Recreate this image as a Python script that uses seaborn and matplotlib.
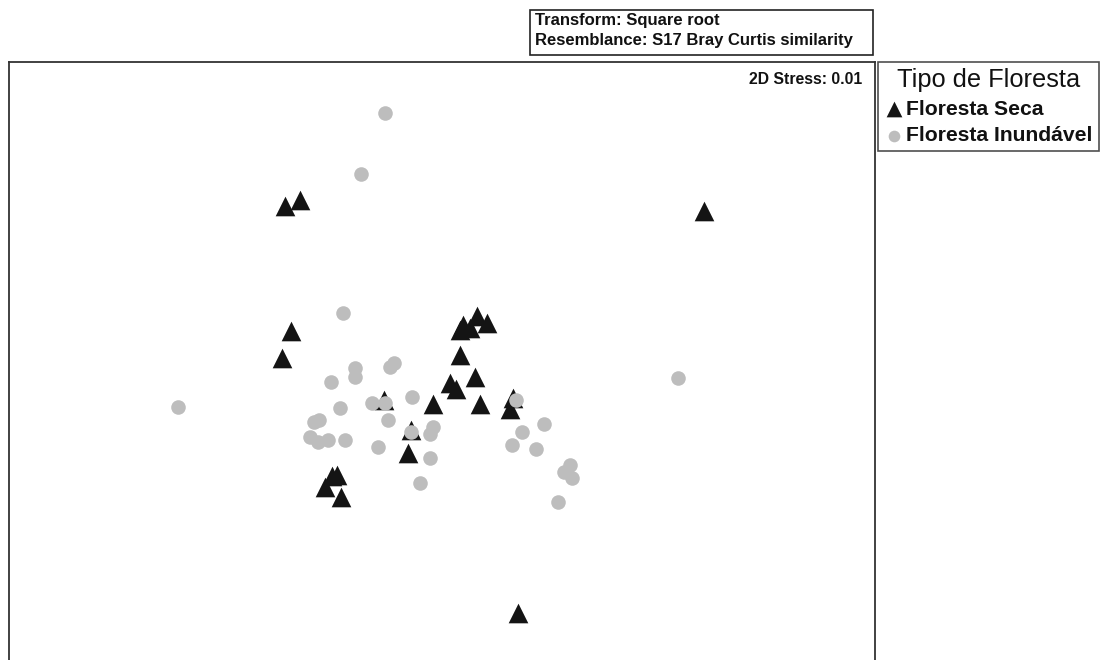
import matplotlib
matplotlib.use("Agg")
import matplotlib.pyplot as plt
from matplotlib.patches import Rectangle
import seaborn as sns
import pandas as pd

# NMDS coordinates
seca_x = [-0.775, -0.70, 1.32, -0.745, -0.79, 0.10, 0.115, 0.15, 0.185, 0.235,
          0.10, 0.175, 0.05, 0.08, -0.035, 0.20, 0.365, 0.35, -0.28, -0.145,
          -0.16, -0.515, -0.54, -0.575, -0.495, 0.39]
seca_y = [0.97, 1.00, 0.945, 0.345, 0.21, 0.35, 0.375, 0.36, 0.42, 0.385,
          0.225, 0.115, 0.085, 0.055, -0.02, -0.02, 0.01, -0.045, 0.0, -0.15,
          -0.265, -0.375, -0.38, -0.435, -0.485, -1.065]

inund_x = [-0.275, -0.395, -0.485, -1.31, 1.19, -0.545, -0.425, -0.425, -0.25, -0.23,
           -0.50, -0.34, -0.275, -0.14, -0.26, -0.63, -0.605, -0.65, -0.61, -0.56,
           -0.475, -0.31, -0.145, -0.035, -0.05, -0.05, -0.10, 0.38, 0.41, 0.52,
           0.36, 0.48, 0.65, 0.62, 0.66, 0.59]
inund_y = [1.435, 1.13, 0.435, -0.035, 0.11, 0.09, 0.16, 0.115, 0.165, 0.185,
           -0.04, -0.015, -0.015, 0.015, -0.10, -0.11, -0.10, -0.185, -0.21, -0.20,
           -0.20, -0.235, -0.16, -0.135, -0.17, -0.29, -0.415, 0.0, -0.16, -0.12,
           -0.225, -0.245, -0.325, -0.36, -0.39, -0.51]

groups = ["Floresta Seca", "Floresta Inundável"]
legend_title = "Tipo de Floresta"
stress_text = "2D Stress: 0.01"
info_lines = ["Transform: Square root", "Resemblance: S17 Bray Curtis similarity"]

df_seca = pd.DataFrame({"x": seca_x, "y": seca_y, "grupo": groups[0]})
df_inund = pd.DataFrame({"x": inund_x, "y": inund_y, "grupo": groups[1]})

sns.set_style("white")
plt.rcParams["font.family"] = ["Liberation Sans", "DejaVu Sans"]
plt.rcParams["text.color"] = "#111111"

W, H = 1103, 660
fig = plt.figure(figsize=(W / 100, H / 100), dpi=100)
ax = fig.add_axes([9 / W, (H - 672) / H, (875 - 9) / W, (672 - 62) / H])

sns.scatterplot(data=df_seca, x="x", y="y", marker="^", color="#141414",
                s=200, linewidth=0, ax=ax, label=groups[0], zorder=2)
sns.scatterplot(data=df_inund, x="x", y="y", marker="o", color="#bdbdbd",
                s=110, linewidth=0, ax=ax, label=groups[1], zorder=3)

ax.set_xlim(-2.155, 2.175)
ax.set_ylim(-1.36, 1.69)
ax.set_xticks([])
ax.set_yticks([])
ax.set_xlabel("")
ax.set_ylabel("")
for sp in ax.spines.values():
    sp.set_color("#333333")
    sp.set_linewidth(1.3)

ax.text(0.9855, 0.983, stress_text, transform=ax.transAxes, ha="right", va="top",
        fontsize=11.3, fontweight="bold", color="#111111")

handles, labels = ax.get_legend_handles_labels()
order = [labels.index(g) for g in groups]
handles = [handles[i] for i in order]
labels = [labels[i] for i in order]
ax.get_legend().remove()

leg = fig.legend(handles, labels, loc="upper left",
                 bbox_to_anchor=(878 / W, 1 - 62 / H), bbox_transform=fig.transFigure,
                 frameon=True, fancybox=False, edgecolor="#222222",
                 title=legend_title, title_fontsize=18.3,
                 prop={"size": 15.2, "weight": "bold"},
                 borderaxespad=0, handletextpad=0.15, handlelength=0.9,
                 borderpad=0.3, labelspacing=0.35, markerscale=0.8)
leg.get_frame().set_linewidth(1.2)
leg.get_title().set_color("#111111")
for t in leg.get_texts():
    t.set_color("#111111")

fig.patches.append(Rectangle((530 / W, 1 - 55 / H), (873 - 530) / W, 45 / H,
                             transform=fig.transFigure, facecolor="white",
                             edgecolor="#222222", linewidth=1.2))
fig.text(535 / W, 1 - 13 / H, "\n".join(info_lines), ha="left", va="top",
         fontsize=12, fontweight="bold", color="#111111", linespacing=1.42)

fig.savefig("out.png", dpi=100)
